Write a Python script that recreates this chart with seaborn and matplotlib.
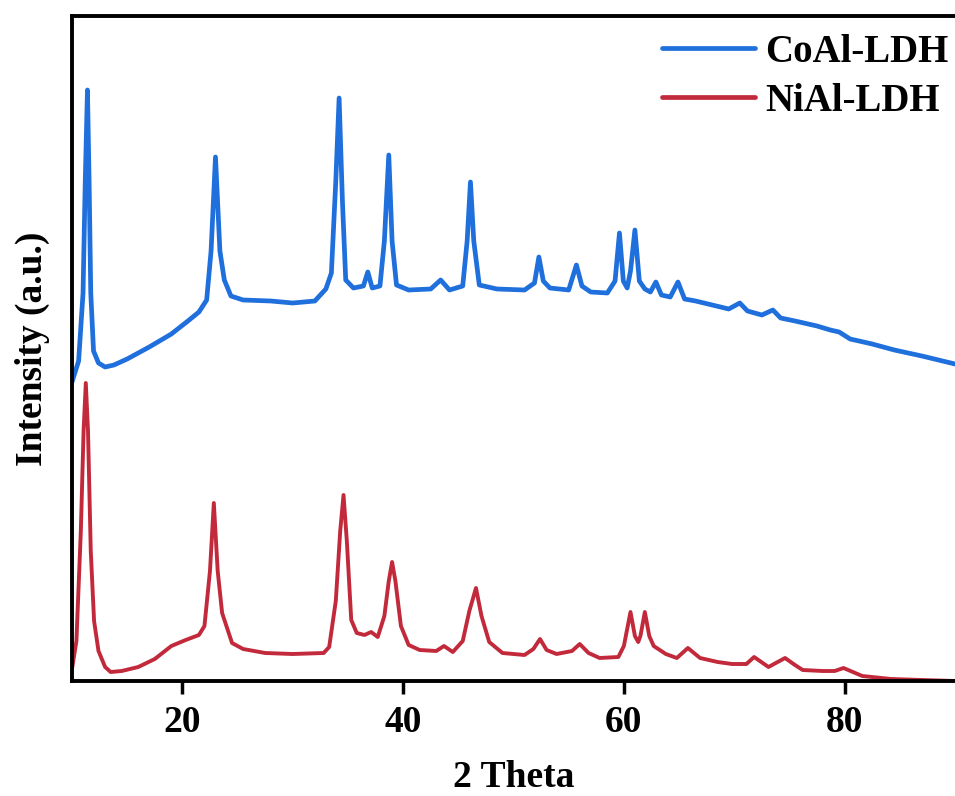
import matplotlib
matplotlib.use("Agg")
import matplotlib.pyplot as plt
import seaborn as sns
import pandas as pd

# ---- data ----
coal_x = [10.0, 10.6, 11.0, 11.2, 11.4, 11.55, 11.7, 11.95, 12.4, 13.0, 13.8, 15.0, 17.0, 19.0,
          20.5, 21.5, 22.2, 22.6, 23.0, 23.4, 23.8, 24.4, 25.5, 28.0, 30.0, 32.0, 33.0, 33.5,
          33.9, 34.2, 34.5, 34.8, 35.5, 36.4, 36.8, 37.2, 37.9, 38.3, 38.7, 39.0, 39.4, 40.5,
          42.5, 43.4, 44.2, 45.4, 45.8, 46.1, 46.4, 46.9, 48.5, 51.0, 51.9, 52.3, 52.7, 53.3,
          55.0, 55.7, 56.2, 57.0, 58.5, 59.2, 59.6, 59.95, 60.3, 60.6, 61.0, 61.4, 61.9, 62.4,
          62.9, 63.4, 64.2, 64.9, 65.5, 66.5, 68.0, 69.5, 70.5, 71.2, 72.5, 73.5, 74.2, 75.5,
          77.5, 78.7, 79.5, 80.5, 82.5, 84.5, 87.0, 90.0]
coal_y = [299, 320, 388, 500, 591, 500, 388, 330, 318, 314, 316, 322, 334, 347,
          360, 369, 381, 430, 524, 430, 401, 385, 381, 380, 378, 380, 392, 408,
          500, 583, 480, 401, 393, 395, 409, 393, 395, 440, 526, 440, 396, 391,
          392, 401, 391, 395, 440, 499, 440, 396, 392, 391, 398, 424, 400, 393,
          391, 416, 395, 389, 388, 400, 448, 400, 393, 410, 451, 400, 392, 389,
          399, 386, 384, 399, 382, 380, 376, 372, 378, 370, 366, 371, 363, 360,
          355, 351, 349, 342, 337, 331, 325, 317]

nial_x = [10.0, 10.4, 10.8, 11.05, 11.25, 11.45, 11.7, 12.0, 12.4, 13.0, 13.5, 14.5, 16.0, 17.5,
          19.0, 20.3, 21.5, 22.0, 22.5, 22.85, 23.2, 23.6, 24.5, 25.5, 27.5, 30.0, 32.8, 33.3,
          33.9, 34.3, 34.6, 34.9, 35.3, 35.8, 36.5, 37.1, 37.7, 38.3, 38.7, 39.0, 39.3, 39.8,
          40.5, 41.5, 43.0, 43.7, 44.5, 45.4, 46.0, 46.6, 47.1, 47.8, 49.0, 51.0, 51.8, 52.4,
          53.0, 53.9, 55.3, 56.0, 56.8, 57.8, 59.5, 60.0, 60.6, 61.0, 61.3, 61.5, 61.9, 62.3,
          62.7, 63.8, 64.8, 65.8, 66.9, 68.5, 69.8, 71.1, 71.8, 73.1, 74.6, 75.5, 76.2, 78.0,
          79.1, 79.9, 81.6, 84.2, 87.0, 90.0]
nial_y = [12, 40, 150, 250, 298, 250, 130, 60, 30, 14, 9, 10, 14, 22,
          35, 41, 46, 55, 110, 178, 110, 68, 38, 32, 28, 27, 28, 34,
          80, 150, 186, 140, 61, 48, 46, 49, 44, 65, 100, 119, 100, 55,
          36, 31, 30, 35, 29, 40, 70, 93, 65, 39, 28, 26, 32, 42,
          31, 27, 30, 37, 28, 23, 24, 35, 69, 45, 39, 45, 69, 45,
          35, 27, 23, 33, 23, 19, 17, 17, 24, 14, 23, 16, 11, 10,
          10, 13, 5, 2, 1, 0]

labels = ["CoAl-LDH", "NiAl-LDH"]
colors = ["#1f6fdc", "#c22a3c"]
x_ticks = [20, 40, 60, 80]

df = pd.concat([
    pd.DataFrame({"x": coal_x, "y": coal_y, "sample": labels[0]}),
    pd.DataFrame({"x": nial_x, "y": nial_y, "sample": labels[1]}),
], ignore_index=True)

sns.set_style("ticks")
plt.rcParams["font.family"] = ["Liberation Serif", "DejaVu Serif"]
plt.rcParams["font.weight"] = "bold"
plt.rcParams["text.color"] = "black"
plt.rcParams["axes.labelcolor"] = "black"
plt.rcParams["xtick.color"] = "black"
plt.rcParams["ytick.color"] = "black"

fig = plt.figure(figsize=(9.55, 7.96), dpi=100)
ax = fig.add_axes([72 / 955, 1 - 681 / 796, 883 / 955, 665 / 796])

sns.lineplot(data=df, x="x", y="y", hue="sample", palette=dict(zip(labels, colors)),
             ax=ax, linewidth=2.8, estimator=None, sort=False)
ax.get_lines()[0].set_linewidth(3.4)

ax.set_xlim(10, 90)
ax.set_ylim(0, 665)
ax.set_xticks(x_ticks)
ax.set_xticklabels([str(t) for t in x_ticks], fontsize=27, fontweight="bold", color="black")
ax.set_yticks([])
ax.tick_params(axis="x", direction="out", length=9, width=2.5, pad=8, colors="black")
for side in ["left", "bottom", "top"]:
    ax.spines[side].set_linewidth(2.8)
    ax.spines[side].set_color("black")
ax.spines["right"].set_visible(False)

ax.set_xlabel("2 Theta", fontsize=27, fontweight="bold", labelpad=15, color="black")
ax.set_ylabel("Intensity (a.u.)", fontsize=27, fontweight="bold", labelpad=16, color="black")

leg = ax.legend(loc="upper right", bbox_to_anchor=(1.012, 1.0), frameon=False,
                fontsize=28, handlelength=2.4, handletextpad=0.25,
                labelspacing=0.32, borderaxespad=0.1, borderpad=0.35)
for line in leg.get_lines():
    line.set_linewidth(3.4)
for t in leg.get_texts():
    t.set_fontweight("bold")
    t.set_color("black")

fig.savefig("out.png", dpi=100)
